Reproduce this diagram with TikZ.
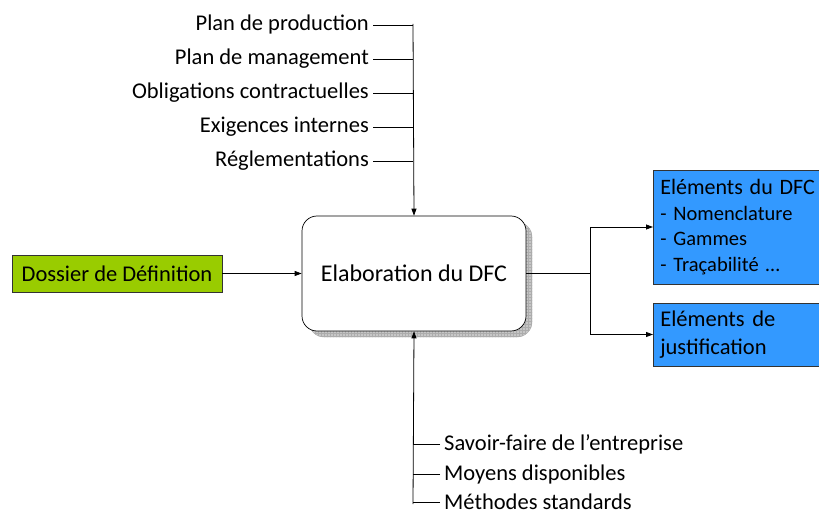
\documentclass[tikz,border=0pt]{standalone}
\usepackage{fontspec}
\setmainfont{Carlito}
\usetikzlibrary{arrows.meta,patterns}
\definecolor{vgreen}{HTML}{99CC00}
\definecolor{vblue}{HTML}{3399FF}
\begin{document}
\begin{tikzpicture}[x=1pt,y=-1pt,
  lbl/.style={font=\fontsize{22.5}{26}\selectfont, inner sep=4pt},
  conn/.style={line width=0.8pt, draw=black},
  arr/.style={conn, -{Triangle[length=7pt,width=5pt]}},
  bluebox/.style={draw=black!80, fill=vblue, line width=0.6pt, anchor=west, inner sep=7pt}
]
\useasboundingbox (0,0) rectangle (819,513);
% shadow
\path[fill=gray!45, rounded corners=15pt, draw=gray!65] (309,222) rectangle (532,337);
\path[pattern=grid, pattern color=gray!65, rounded corners=15pt] (309,222) rectangle (532,337);
% main box
\node[draw=black, fill=white, rounded corners=15pt, minimum width=224pt, minimum height=115pt, line width=0.7pt,
  font=\fontsize{24}{28}\selectfont] (main) at (414,273.5) {Elaboration du DFC};
% top inputs
\coordinate (top) at (413,24);
\node[lbl, anchor=east] (t1) at (373,25) {Plan de production};
\node[lbl, anchor=east] (t2) at (373,59) {Plan de management};
\node[lbl, anchor=east] (t3) at (373,93) {Obligations contractuelles};
\node[lbl, anchor=east] (t4) at (373,127) {Exigences internes};
\node[lbl, anchor=east] (t5) at (373,161) {Réglementations};
\foreach \n in {t1,t2,t3,t4,t5} \draw[conn] (\n.east) -- (top |- \n.east);
\draw[arr] (top) -- (main.north);
% bottom inputs
\coordinate (bot) at (413,504);
\node[lbl, anchor=west] (s1) at (440,444) {Savoir-faire de l’entreprise};
\node[lbl, anchor=west] (s2) at (440,474) {Moyens disponibles};
\node[lbl, anchor=west] (s3) at (440,502) {Méthodes standards};
\foreach \n in {s1,s2,s3} \draw[conn] (\n.west) -- (bot |- \n.west);
\draw[arr] (bot) -- (main.south);
% left input
\node[draw=black!80, fill=vgreen, line width=0.6pt, minimum width=210pt, minimum height=37pt,
  font=\fontsize{22.5}{26}\selectfont] (dd) at (117,273.5) {Dossier de Définition};
\draw[arr] (dd.east) -- (main.west);
% outputs
\node[bluebox, minimum height=114pt, text width=185pt, align=left,
  font=\fontsize{20.5}{25.5}\selectfont] (b1) at (653,227)
  {{\fontsize{22}{25.5}\selectfont Eléments du DFC}\\ - Nomenclature\\ - Gammes\\ - Traçabilité …};
\node[bluebox, minimum height=63pt, text width=185pt, align=left,
  font=\fontsize{22.5}{28}\selectfont] (b2) at (653,334.5) {Eléments de\\justification};
\coordinate (split) at (590,273.5);
\draw[conn] (main.east) -- (split);
\draw[arr] (split) |- (b1.west);
\draw[arr] (split) |- (b2.west);
\end{tikzpicture}
\end{document}
